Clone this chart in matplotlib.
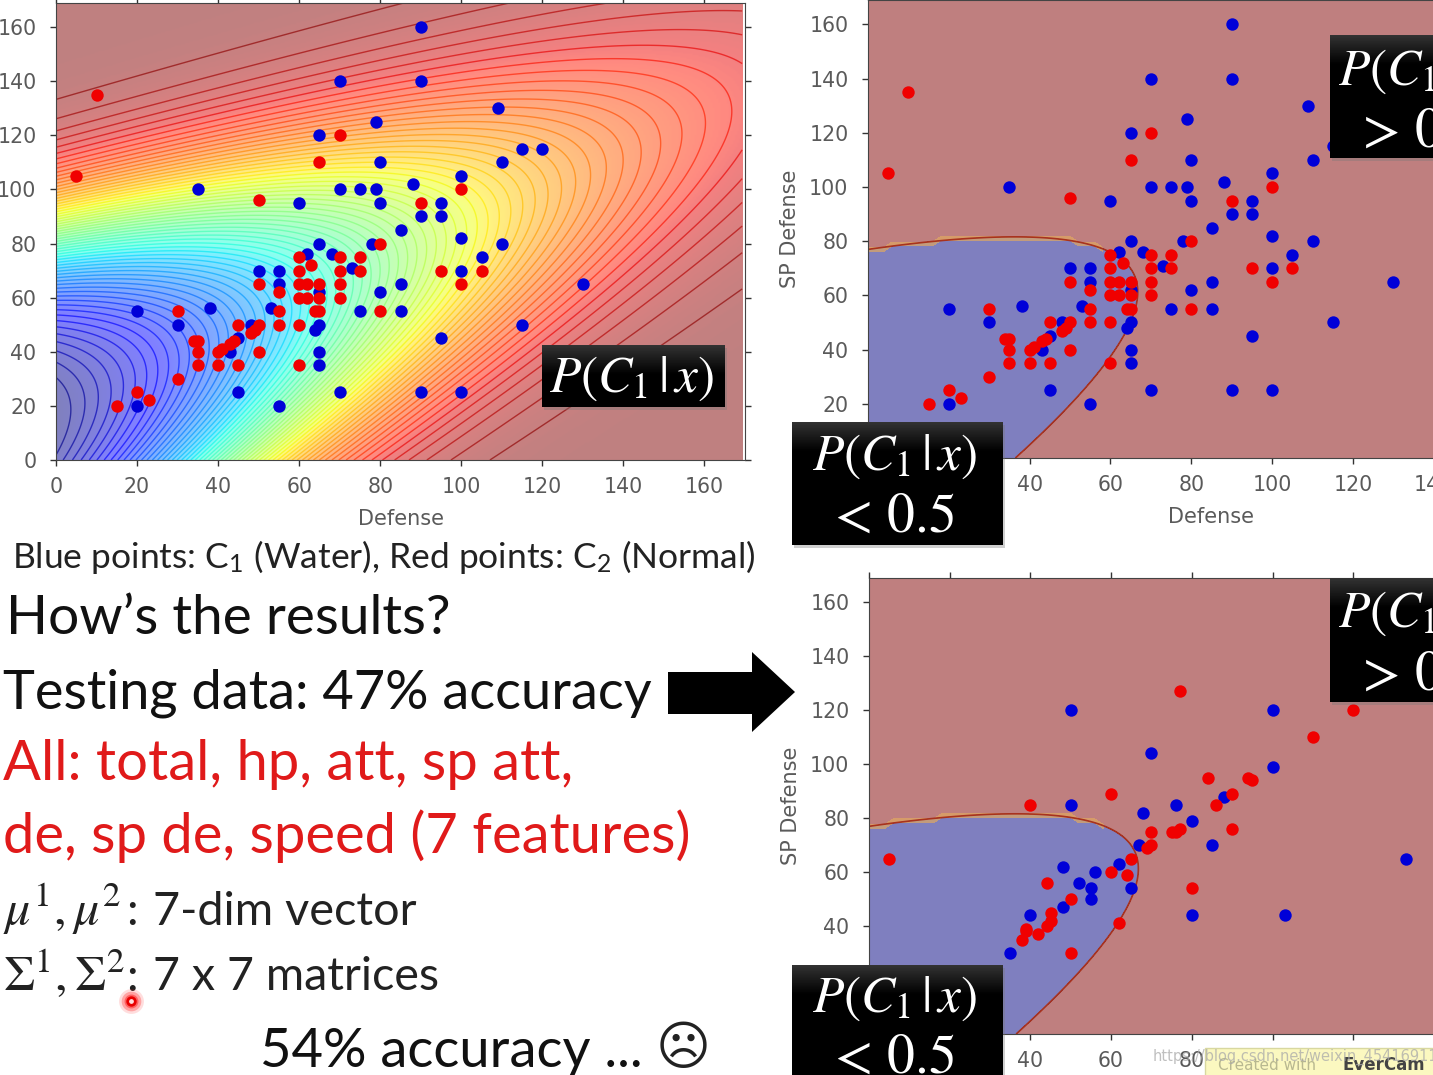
import numpy as np
import matplotlib
matplotlib.use('Agg')
import matplotlib.pyplot as plt
from matplotlib.patches import Polygon, Rectangle

W, H = 1433, 1075

# Class parameters of the two gaussians behind the probability surface (Defense, SP Defense)
mu1 = np.array([75.0, 71.3])
cov1 = np.array([[874.0, 327.0], [327.0, 929.0]])
mu2 = np.array([55.6, 59.8])
cov2 = np.array([[847.0, 422.0], [422.0, 685.0]])
n1, n2 = 79, 61

ticks = [0, 20, 40, 60, 80, 100, 120, 140, 160]

# Training points
train_blue_x = [90, 70, 90, 109, 79, 65, 120, 115, 110, 80, 100, 88, 35, 70, 75, 79, 60, 80, 95, 90, 95, 85, 100, 65,
                78, 110, 105, 62, 68, 73, 50, 55, 100, 55, 80, 85, 130, 20, 38, 53, 75, 85, 30, 48, 65, 64, 115, 45,
                95, 43, 65, 65, 45, 70, 90, 100, 20, 55, 65]
train_blue_y = [160, 140, 140, 130, 125, 120, 115, 115, 110, 110, 105, 102, 100, 100, 100, 100, 95, 95, 95, 90, 90, 85,
                82, 80, 80, 80, 75, 76, 76, 71, 70, 70, 70, 65, 62, 65, 65, 55, 56, 56, 55, 55, 50, 50, 50, 48, 50, 45,
                45, 40, 40, 35, 25, 25, 25, 25, 20, 20, 62]
train_red_x = [10, 70, 65, 5, 50, 90, 100, 80, 95, 105, 100, 80, 70, 60, 63, 75, 75, 70, 70, 60, 50, 55, 60, 62, 65,
               60, 62, 65, 70, 30, 55, 55, 65, 64, 60, 50, 45, 48, 49, 50, 60, 34, 35, 35, 35, 40, 45, 40, 41, 43, 44,
               30, 20, 23, 15]
train_red_y = [135, 120, 110, 105, 96, 95, 100, 80, 70, 70, 65, 55, 75, 75, 72, 75, 70, 70, 65, 70, 65, 62, 65, 65, 65,
               60, 60, 60, 60, 55, 55, 50, 55, 55, 50, 50, 50, 47, 48, 40, 35, 44, 44, 40, 35, 35, 35, 40, 41, 43, 44,
               30, 25, 22, 20]

# Testing points
test_blue_x = [50, 100, 70, 100, 50, 76, 88, 68, 80, 67, 85, 133, 48, 56, 62, 52, 55, 65, 55, 48, 40, 80, 103, 35]
test_blue_y = [120, 120, 104, 99, 85, 85, 88, 82, 79, 70, 70, 65, 62, 60, 63, 56, 54, 54, 50, 47, 44, 44, 44, 30]
test_red_x = [77, 120, 110, 84, 94, 95, 60, 40, 90, 86, 70, 75, 76, 77, 90, 69, 70, 65, 5, 60, 64, 44, 80, 50, 45, 45,
              44, 39, 38, 39, 42, 62, 50]
test_red_y = [127, 120, 110, 95, 95, 94, 89, 85, 89, 85, 75, 75, 75, 76, 76, 69, 70, 65, 65, 60, 59, 56, 54, 50, 45, 42,
              40, 39, 35, 38, 37, 41, 30]

left_lines = ["How\u2019s the results?", "Testing data: 47% accuracy", "All: total, hp, att, sp att,",
              "de, sp de, speed (7 features)"]

plt.rcParams['font.family'] = ['Lato', 'DejaVu Sans']
plt.rcParams['mathtext.fontset'] = 'stix'

BLUE = '#0000d8'
RED = '#f00000'
TICK_GREY = '#5a5a5a'
POST = r'$P(C_1\,|\,x)$'


def gauss(x, y, mu, cov):
    inv = np.linalg.inv(cov)
    dx = x - mu[0]
    dy = y - mu[1]
    q = inv[0, 0]*dx*dx + 2*inv[0, 1]*dx*dy + inv[1, 1]*dy*dy
    return np.exp(-0.5*q) / (2*np.pi*np.sqrt(np.linalg.det(cov)))


def posterior(x, y):
    g1 = gauss(x, y, mu1, cov1) * n1
    g2 = gauss(x, y, mu2, cov2) * n2
    return g1 / (g1 + g2)


def px_axes(fig, l, t, r, b):
    return fig.add_axes([l/W, 1 - b/H, (r - l)/W, (b - t)/H])


def setup(ax, ylabel=None):
    ax.set_xlim(0, 170)
    ax.set_ylim(0, 169)
    ax.set_xticks(ticks)
    ax.set_yticks(ticks)
    ax.tick_params(direction='out', length=4, width=1, top=True, right=True, labelsize=14.8, colors='#333333',
                   labelcolor=TICK_GREY)
    ax.tick_params(axis='x', pad=8)
    ax.tick_params(axis='y', pad=10)
    for lab in ax.get_xticklabels() + ax.get_yticklabels():
        lab.set_family('DejaVu Sans')
    ax.set_xlabel('Defense', fontsize=15, family='DejaVu Sans', color=TICK_GREY, labelpad=9)
    if ylabel:
        ax.set_ylabel(ylabel, fontsize=15, family='DejaVu Sans', color=TICK_GREY, labelpad=6.5)
    for s in ax.spines.values():
        s.set_color('#444444')


def points(ax, bx, by, rx, ry):
    ax.scatter(bx, by, s=80, c=BLUE, linewidths=0, zorder=5)
    ax.scatter(rx, ry, s=80, c=RED, linewidths=0, zorder=6)


xs = np.linspace(0, 169.3, 340)
X, Y = np.meshgrid(xs, xs)
P = posterior(X, Y)

# the stepped tan slivers on the flat top of the boundary come from a class mask on a coarse grid
cx = np.arange(0, 60, 2.0)
cy = np.arange(70, 90, 2.0)
CX, CY = np.meshgrid(cx, cy)
P_class = (posterior(CX, CY) > 0.5).astype(float)

fig = plt.figure(figsize=(W/100, H/100), dpi=100)

# Left: probability surface, colours scaled to the surface's own range
ax1 = px_axes(fig, 56, 2.7, 745, 460)
pmin, pmax = P.min(), P.max()
ax1.imshow(P, extent=(0, 169.3, 0, 169.3), origin='lower', cmap='jet', vmin=pmin, vmax=pmax, alpha=0.5, aspect='auto',
           interpolation='bilinear')
ax1.contour(X, Y, P, levels=np.linspace(pmin, pmax, 66), cmap='jet', vmin=pmin, vmax=pmax, linewidths=1.0, alpha=0.65)
setup(ax1)
points(ax1, train_blue_x, train_blue_y, train_red_x, train_red_y)

# Right: decision regions, training then testing
ax2 = px_axes(fig, 868, 0, 1555, 458)
ax3 = px_axes(fig, 869, 578, 1555, 1034)
for ax in (ax2, ax3):
    ax.contourf(X, Y, P, levels=[0, 0.5, 1], colors=['#000080', '#800000'], alpha=0.5)
    ax.contourf(CX, CY, P_class, levels=[0.15, 0.85], colors=['#e0a860'], alpha=0.7)
    ax.contour(X, Y, P, levels=[0.5], colors='#a8321e', linewidths=1.2)
    setup(ax, 'SP Defense')
points(ax2, train_blue_x, train_blue_y, train_red_x, train_red_y)
points(ax3, test_blue_x, test_blue_y, test_red_x, test_red_y)

# Slide overlay in pixel coordinates
ov = fig.add_axes([0, 0, 1, 1], zorder=20)
ov.patch.set_alpha(0)
ov.axis('off')


def box(l, t, r, b):
    ov.add_patch(Rectangle((l + 2, t + 3), r - l, b - t, fc='#777777', ec='none', alpha=0.35, zorder=1))
    ov.add_patch(Rectangle((l, t), r - l, b - t, fc='black', ec='none', zorder=2))
    grad = np.linspace(0.2, 0, 40)[:, None]
    ov.imshow(grad, extent=(l, r, t + 30, t), cmap='gray', vmin=0, vmax=1, aspect='auto', zorder=3)


def white(x, y, s, size=37):
    ov.text(x, y, s, color='white', fontsize=size, ha='left', va='center', zorder=4)


box(542, 345, 725, 407)
white(549, 379, POST)

box(792, 422, 1003, 545)
white(812, 457, POST)
white(826, 516, r'$<\,0.5$', 40)

box(1330, 35, 1440, 158)
white(1338, 72, POST)
white(1354, 131, r'$>\,0.5$', 40)

box(792, 965, 1003, 1090)
white(812, 999, POST)
white(826, 1057, r'$<\,0.5$', 40)

box(1330, 578, 1440, 702)
white(1338, 614, POST)
white(1354, 674, r'$>\,0.5$', 40)

ov.text(12, 557, r'Blue points: C$_{\mathregular{1}}$ (Water), Red points: C$_{\mathregular{2}}$ (Normal)',
        fontsize=25.5, color='#222222', va='center')
ov.text(6, 618, left_lines[0], fontsize=39.7, color='#111111', va='center')
ov.text(3, 693, left_lines[1], fontsize=39, color='#111111', va='center')
ov.text(3, 765, left_lines[2], fontsize=40.4, color='#e01a1a', va='center')
ov.text(3, 836, left_lines[3], fontsize=40.4, color='#e01a1a', va='center')
ov.text(3, 909, r'$\mu^{1},\mu^{2}$', fontsize=36, color='#222222', va='center')
ov.text(126, 912, ':', fontsize=33.7, color='#222222', va='center')
ov.text(153, 912, '7-dim vector', fontsize=33.7, color='#222222', va='center')
ov.text(3, 974, r'$\Sigma^{1},\Sigma^{2}$', fontsize=36, color='#222222', va='center')
ov.text(126, 978, ':', fontsize=33.7, color='#222222', va='center')
ov.text(153, 977, '7 x 7 matrices', fontsize=33.6, color='#222222', va='center')
ov.text(260, 1051, '54% accuracy ...', fontsize=39.2, color='#111111', va='center')
ov.text(683, 1049, '\u2639', fontsize=38, color='#222222', va='center', ha='center', family='DejaVu Sans')

# Big arrow
ov.add_patch(Polygon([(668, 672), (752, 672), (752, 652), (795, 692), (752, 732), (752, 714), (668, 714)],
                     closed=True, fc='black', ec='none'))

# Laser pointer
for r, a in [(320, 0.15), (200, 0.3), (100, 0.5)]:
    ov.scatter([131], [1001], s=r, c='#ff2020', alpha=a, linewidths=0, zorder=6)
ov.scatter([131], [1001], s=30, c='#ffdddd', edgecolors='#e80000', linewidths=2, zorder=7)

# Footer
ov.add_patch(Rectangle((1205, 1048), 240, 40, fc='#fbf8c0', ec='#d8d8a0', zorder=5))
ov.text(1218, 1065, 'Created with', fontsize=11, color='#b8b890', va='center', zorder=6, family='DejaVu Sans')
ov.text(1343, 1065, 'EverCam', fontsize=12, color='#444444', va='center', weight='bold', zorder=6, family='DejaVu Sans')
ov.text(1153, 1057, 'https://blog.csdn.net/weixin_45416911', fontsize=10.5, color='#aaaaaa', alpha=0.75, va='center',
        zorder=7, family='DejaVu Sans')

ov.set_xlim(0, W)
ov.set_ylim(H, 0)

fig.savefig('out.png', dpi=100)
